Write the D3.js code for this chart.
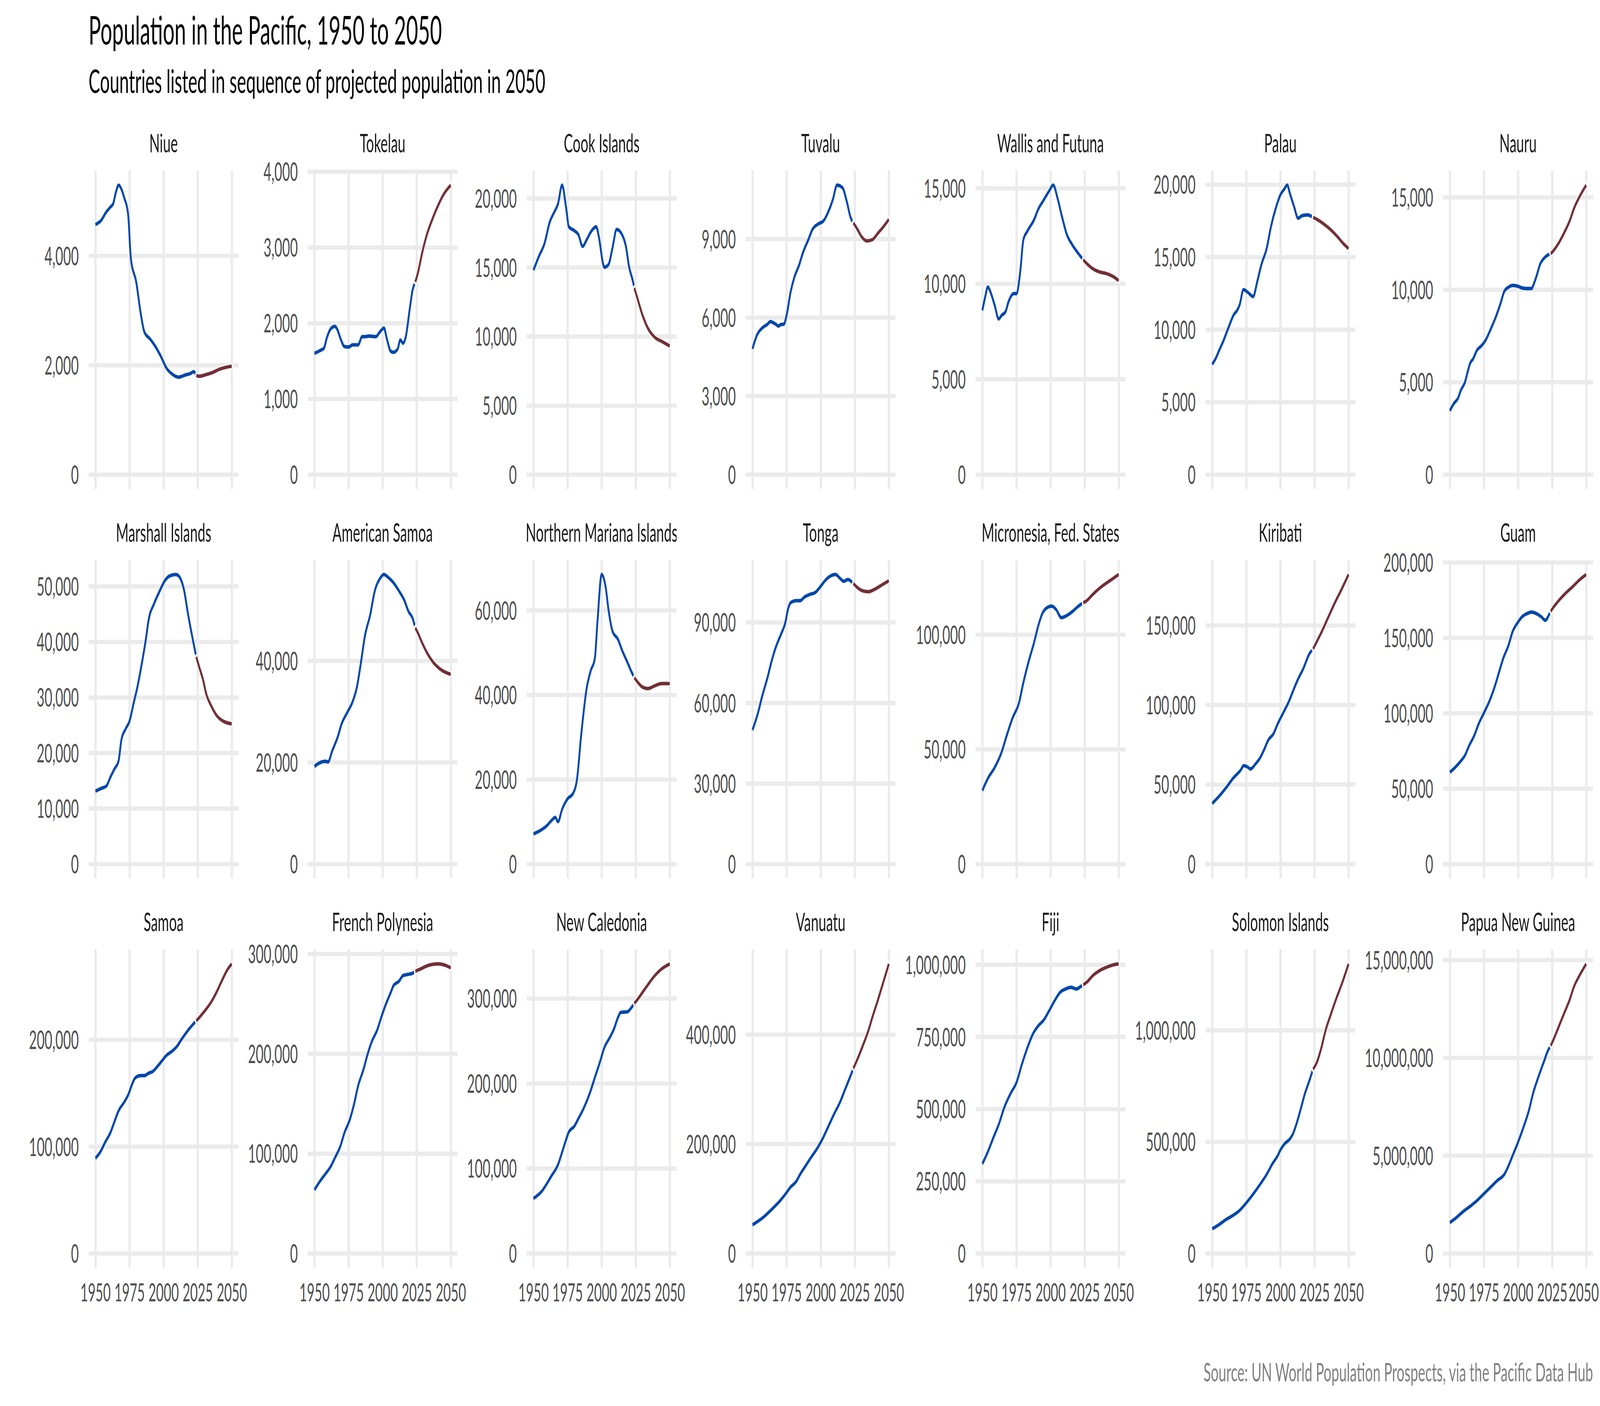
<!DOCTYPE html>
<html>
<head>
<meta charset="utf-8">
<script src="https://cdn.jsdelivr.net/npm/d3@7"></script>
<style>
  html, body { margin: 0; padding: 0; background: #fff; overflow: hidden; }
  svg { display: block; }
</style>
</head>
<body>
<div id="chart"></div>
<script>
// panels in the order of projected population in 2050
var countries = ["Niue", "Tokelau", "Cook Islands", "Tuvalu", "Wallis and Futuna", "Palau", "Nauru",
    "Marshall Islands", "American Samoa", "Northern Mariana Islands", "Tonga", "Micronesia, Fed. States", "Kiribati", "Guam",
    "Samoa", "French Polynesia", "New Caledonia", "Vanuatu", "Fiji", "Solomon Islands", "Papua New Guinea"];

// [year, population]; estimates up to 2024, projections after
var niue = [[1950,4570],[1954,4640],[1958,4800],[1961,4890],[1963,4950],[1965,5160],[1967,5290],[1969,5220],[1971,5070],[1974,4750],[1976,3950],[1980,3510],[1983,2980],[1986,2600],[1990,2480],[1994,2340],[1998,2160],[2002,1950],[2006,1840],[2011,1780],[2016,1820],[2020,1850],[2022,1880],[2024,1810],[2026,1795],[2031,1825],[2036,1865],[2041,1925],[2045,1955],[2050,1980]];
var tokelau = [[1950,1600],[1954,1636],[1957,1670],[1959,1800],[1962,1925],[1965,1955],[1967,1905],[1969,1800],[1972,1690],[1975,1683],[1978,1712],[1982,1712],[1985,1820],[1987,1820],[1990,1828],[1995,1820],[1998,1883],[2001,1934],[2003,1800],[2006,1627],[2008,1614],[2011,1657],[2013,1776],[2015,1734],[2017,1819],[2020,2200],[2022,2437],[2024,2543],[2026,2671],[2029,2926],[2032,3139],[2037,3395],[2041,3565],[2045,3706],[2050,3821]];
var cook = [[1950,14800],[1954,15800],[1958,16700],[1962,18300],[1965,18950],[1968,19600],[1971,20950],[1974,19250],[1976,17930],[1980,17650],[1983,17360],[1986,16520],[1989,16990],[1992,17550],[1996,17930],[1998,17180],[2001,15290],[2002,15010],[2005,15200],[2008,16420],[2011,17740],[2015,17360],[2018,16420],[2020,15100],[2023,13970],[2024,13500],[2026,12840],[2030,11530],[2034,10580],[2039,9930],[2044,9640],[2050,9300]];
var tuvalu = [[1950,4800],[1953,5290],[1957,5590],[1961,5740],[1963,5840],[1967,5740],[1969,5670],[1971,5730],[1973,5740],[1975,6080],[1978,6980],[1981,7580],[1984,7970],[1987,8470],[1991,8970],[1994,9360],[1998,9560],[2002,9680],[2005,9960],[2009,10510],[2012,11050],[2016,10950],[2019,10460],[2022,9810],[2024,9610],[2027,9360],[2030,9085],[2034,8920],[2038,8970],[2042,9215],[2046,9460],[2050,9740]];
var wallis = [[1950,8600],[1952,9280],[1954,9820],[1956,9550],[1959,8870],[1962,8150],[1964,8330],[1967,8530],[1969,9010],[1973,9480],[1975,9480],[1978,10780],[1980,12270],[1983,12750],[1988,13360],[1991,13900],[1995,14380],[1999,14860],[2002,15160],[2005,14520],[2008,13630],[2012,12570],[2016,12030],[2020,11620],[2024,11250],[2027,11020],[2031,10780],[2036,10610],[2041,10530],[2046,10370],[2050,10160]];
var palau = [[1950,7600],[1953,8090],[1955,8540],[1958,9170],[1962,10150],[1966,11050],[1968,11280],[1970,11670],[1973,12750],[1976,12570],[1980,12270],[1983,13290],[1986,14450],[1990,15610],[1993,17050],[1997,18480],[2000,19280],[2003,19700],[2005,19950],[2007,19370],[2010,18480],[2013,17670],[2016,17850],[2020,17900],[2024,17730],[2027,17580],[2032,17260],[2037,16870],[2042,16380],[2046,15940],[2050,15580]];
var nauru = [[1950,3450],[1953,3850],[1956,4130],[1958,4550],[1961,4980],[1963,5540],[1965,6040],[1967,6250],[1970,6740],[1973,6950],[1976,7240],[1980,7870],[1984,8580],[1987,9220],[1990,9920],[1993,10130],[1996,10230],[2000,10180],[2003,10090],[2006,10060],[2010,10060],[2011,10200],[2014,10840],[2016,11340],[2019,11690],[2021,11830],[2024,11940],[2026,12110],[2030,12540],[2034,13100],[2038,13740],[2041,14380],[2045,15010],[2050,15650]];
var marshall = [[1950,13100],[1954,13570],[1958,14010],[1961,15630],[1964,17110],[1967,18580],[1969,22270],[1972,24240],[1975,25710],[1978,28910],[1981,32100],[1984,36040],[1987,40460],[1989,43900],[1993,46850],[1997,49070],[2001,51030],[2005,51920],[2009,52110],[2011,51870],[2015,49310],[2018,44890],[2021,40950],[2023,38500],[2024,37270],[2026,35550],[2029,33090],[2031,30880],[2035,28420],[2039,26700],[2043,25810],[2050,25220]];
var amSamoa = [[1950,19200],[1954,19920],[1958,20190],[1960,20080],[1963,22230],[1967,24930],[1970,27620],[1974,29770],[1978,31930],[1981,34620],[1984,39460],[1987,44850],[1991,49150],[1994,53460],[1998,56150],[2001,56960],[2004,56420],[2008,55340],[2012,53730],[2016,51840],[2019,49690],[2022,48340],[2024,46460],[2026,45380],[2029,43500],[2033,41350],[2037,39730],[2042,38390],[2050,37310]];
var nMariana = [[1950,7100],[1955,7900],[1960,9100],[1963,10190],[1966,11000],[1968,10000],[1971,12900],[1975,15400],[1979,16650],[1982,20200],[1985,30500],[1989,41500],[1992,45700],[1995,48600],[1997,57600],[2000,68450],[2003,65350],[2005,60200],[2008,55030],[2012,53100],[2015,50520],[2019,47610],[2022,45360],[2024,44060],[2027,42770],[2030,41810],[2034,41480],[2039,42130],[2044,42650],[2050,42650]];
var tonga = [[1950,49900],[1954,56180],[1957,62270],[1961,69380],[1964,75480],[1967,80560],[1971,85640],[1974,89700],[1976,94780],[1978,97320],[1982,98030],[1985,98030],[1988,99350],[1992,100370],[1996,101080],[2000,103410],[2004,105950],[2007,107170],[2011,107780],[2014,106460],[2017,105240],[2020,105950],[2023,104940],[2024,104430],[2027,102910],[2031,101690],[2035,101380],[2040,102400],[2045,103920],[2050,105450]];
var micronesia = [[1950,32000],[1954,37220],[1959,41970],[1964,48510],[1968,56240],[1972,63380],[1977,70510],[1980,78840],[1984,88350],[1988,96670],[1991,103800],[1994,109160],[1997,111530],[2001,112370],[2004,110940],[2008,107370],[2012,108320],[2016,109990],[2020,112130],[2024,113900],[2026,114500],[2031,117480],[2037,120690],[2044,123660],[2050,126160]];
var kiribati = [[1950,38000],[1955,42510],[1960,47660],[1966,54510],[1968,56230],[1971,59140],[1973,61710],[1976,60860],[1978,59660],[1982,63090],[1985,66510],[1988,71660],[1991,77660],[1995,81940],[1998,87940],[2002,94800],[2006,101660],[2010,110230],[2013,116230],[2017,123090],[2021,131660],[2024,135090],[2026,138510],[2030,145370],[2035,154800],[2040,164230],[2045,172800],[2050,181890]];
var guam = [[1950,60800],[1954,64080],[1958,68230],[1961,71840],[1964,78160],[1968,85380],[1971,92600],[1975,100180],[1979,107940],[1983,117870],[1986,126900],[1989,135920],[1993,144950],[1996,153970],[2000,160290],[2003,163900],[2006,165700],[2010,166970],[2014,165700],[2017,163900],[2020,161550],[2023,165700],[2024,167510],[2026,170220],[2030,174730],[2035,179600],[2040,183760],[2045,188270],[2050,191880]];
var samoa = [[1950,89000],[1954,95760],[1957,103610],[1961,113030],[1964,123390],[1967,133440],[1971,141290],[1974,148200],[1977,158560],[1979,163890],[1983,166400],[1986,166400],[1989,168600],[1992,170170],[1996,175820],[1999,180530],[2002,185240],[2006,189010],[2010,194040],[2013,200000],[2017,207220],[2021,213500],[2024,217580],[2027,221980],[2031,228260],[2035,235480],[2039,244900],[2043,255890],[2047,265930],[2050,270960]];
var frPolynesia = [[1950,63500],[1954,72080],[1958,79450],[1962,87160],[1965,95540],[1969,107280],[1972,120680],[1976,134090],[1979,149180],[1982,167620],[1986,184380],[1989,199460],[1992,211870],[1996,223600],[1999,236340],[2002,248070],[2006,261480],[2008,268190],[2012,272540],[2015,278240],[2018,279250],[2022,280590],[2024,282600],[2028,284950],[2032,287630],[2037,289500],[2041,289900],[2046,288500],[2050,285950]];
var newCaledonia = [[1950,64500],[1956,72840],[1963,90550],[1968,104330],[1972,124020],[1976,142910],[1980,149610],[1983,158660],[1987,171260],[1991,187010],[1995,206690],[1999,226380],[2002,242130],[2006,253940],[2009,263780],[2012,277560],[2014,283470],[2019,284250],[2021,287400],[2024,294090],[2026,298030],[2030,307090],[2034,316140],[2039,326770],[2044,334650],[2050,340550]];
var vanuatu = [[1950,52000],[1954,58460],[1958,65850],[1962,75080],[1966,84920],[1970,95390],[1974,107690],[1978,121230],[1982,131080],[1985,144620],[1989,160000],[1993,175390],[1998,193850],[2002,212310],[2006,233850],[2010,255390],[2014,275080],[2018,300000],[2022,325000],[2024,338000],[2027,355000],[2031,380000],[2035,407000],[2038,432000],[2042,463000],[2046,496000],[2050,529000]];
var fiji = [[1950,310000],[1954,351100],[1958,399770],[1962,446120],[1966,504060],[1971,556200],[1975,590960],[1979,654690],[1984,724220],[1987,758980],[1991,787950],[1995,807650],[1999,840090],[2003,874860],[2007,903820],[2011,915410],[2015,921200],[2019,915410],[2022,923520],[2024,930000],[2027,940900],[2031,961760],[2036,979140],[2041,990730],[2046,998840],[2050,1002320]];
var solomon = [[1950,110000],[1955,128200],[1960,150830],[1965,168930],[1970,191550],[1974,218700],[1978,248870],[1982,282050],[1986,316740],[1990,354450],[1994,399700],[1998,437410],[2000,463050],[2003,490200],[2007,512820],[2009,532430],[2012,583710],[2015,648570],[2018,716440],[2021,769230],[2023,806940],[2024,825040],[2027,859730],[2030,920060],[2033,995480],[2037,1070890],[2041,1141780],[2045,1206640],[2050,1297130]];
var png = [[1950,1570000],[1955,1841000],[1960,2150000],[1965,2408000],[1970,2701000],[1975,3045000],[1980,3389000],[1985,3733000],[1990,4043000],[1993,4473000],[1996,4989000],[2000,5677000],[2004,6451000],[2008,7311000],[2011,8171000],[2015,9031000],[2019,9806000],[2022,10373000],[2024,10614000],[2026,10924000],[2030,11612000],[2034,12300000],[2038,12988000],[2041,13625000],[2045,14192000],[2050,14794000]];

var series = [niue, tokelau, cook, tuvalu, wallis, palau, nauru,
    marshall, amSamoa, nMariana, tonga, micronesia, kiribati, guam,
    samoa, frPolynesia, newCaledonia, vanuatu, fiji, solomon, png];

var yTicks = [
    [0, 2000, 4000], [0, 1000, 2000, 3000, 4000], [0, 5000, 10000, 15000, 20000], [0, 3000, 6000, 9000],
    [0, 5000, 10000, 15000], [0, 5000, 10000, 15000, 20000], [0, 5000, 10000, 15000],
    [0, 10000, 20000, 30000, 40000, 50000], [0, 20000, 40000], [0, 20000, 40000, 60000], [0, 30000, 60000, 90000],
    [0, 50000, 100000], [0, 50000, 100000, 150000], [0, 50000, 100000, 150000, 200000],
    [0, 100000, 200000], [0, 100000, 200000, 300000], [0, 100000, 200000, 300000], [0, 200000, 400000],
    [0, 250000, 500000, 750000, 1000000], [0, 500000, 1000000], [0, 5000000, 10000000, 15000000]];
var xTicks = [1950, 1975, 2000, 2025, 2050];
var lastEstimate = 2024;

var width = 7800, height = 3600;
var nCols = 7, nRows = 3;
var panelW = 731, panelH = 815;
var firstLeft = 432, firstTop = 437, rowStep = 997;
var labelGap = 48, colGap = 46;
var histColour = "#0047AB", projColour = "#722F37";
var fontFamily = "Lato, 'Open Sans', sans-serif";

// drawn in a 7800 x 3600 user space that fills the window
var svg = d3.select("#chart")
  .append("svg")
    .attr("viewBox", "0 0 " + width + " " + height)
    .attr("preserveAspectRatio", "none")
    .style("width", "100vw")
    .style("height", "100vh")
    .style("font-family", fontFamily);

svg.append("rect").attr("width", width).attr("height", height).attr("fill", "#fff");

function textWidth(str, size) {
    var t = svg.append("text").attr("font-size", size).text(str);
    var w = t.node().getComputedTextLength();
    t.remove();
    return w;
}

// the original used Calibri; scale the stand-in font to Calibri's widths
var digitScale = 404.9 / textWidth("1,000,000", 100);
var yearScale = 507 / textWidth("0123456789", 100);
var textScale = 1566 / textWidth("Population in the Pacific, 1950 to 2050", 100);
var axisSize = 73 * digitScale;
var yearSize = 73 * yearScale;
var stripSize = 73 * textScale;

var fmt = d3.format(",");

// every column's axis is as wide as its widest label
var axisW = [];
for (var c = 0; c < nCols; c++) {
    var m = 0;
    for (var r = 0; r < nRows; r++) {
        yTicks[r * nCols + c].forEach(function(v) {
            m = Math.max(m, textWidth(fmt(v), axisSize));
        });
    }
    axisW.push(m);
}
var colLeft = [firstLeft];
for (var c = 1; c < nCols; c++) {
    colLeft.push(colLeft[c - 1] + panelW + colGap + axisW[c] + labelGap);
}

var line = function(x, y) {
    return d3.line()
        .x(function(d) { return x(d[0]); })
        .y(function(d) { return y(d[1]); })
        .curve(d3.curveMonotoneX);
};

countries.forEach(function(name, i) {
    var row = Math.floor(i / nCols), col = i % nCols;
    var left = colLeft[col], top = firstTop + row * rowStep;
    var data = series[i];
    var maxVal = d3.max(data, function(d) { return d[1]; });

    var x = d3.scaleLinear().domain([1945, 2055]).range([0, panelW]);
    var y = d3.scaleLinear().domain([-0.05 * maxVal, 1.05 * maxVal]).range([panelH, 0]);

    var g = svg.append("g").attr("transform", "translate(" + left + "," + top + ")");

    var yAxis = g.append("g")
        .call(d3.axisLeft(y).tickValues(yTicks[i]).tickSize(-panelW).tickPadding(labelGap).tickFormat(fmt));
    var xAxis = g.append("g")
        .attr("transform", "translate(0," + panelH + ")")
        .call(d3.axisBottom(x).tickValues(xTicks).tickSize(-panelH)
            .tickFormat(row == nRows - 1 ? d3.format("d") : ""));

    [yAxis, xAxis].forEach(function(a) {
        a.select(".domain").remove();
        a.selectAll(".tick line").attr("stroke", "#EBEBEB").attr("stroke-width", 11);
        a.selectAll(".tick text")
            .attr("fill", "#4D4D4D")
            .attr("font-family", fontFamily);
    });
    yAxis.selectAll(".tick text").attr("font-size", axisSize).attr("dy", "0.36em");
    xAxis.selectAll(".tick text").attr("font-size", yearSize).attr("y", 86).attr("dy", 0);

    // keep the last year label inside the picture
    xAxis.selectAll(".tick text").each(function(d) {
        var half = this.getComputedTextLength() / 2;
        var over = left + x(d) + half - (width - 6);
        if (over > 0) d3.select(this).attr("x", -over);
    });

    var hist = data.filter(function(d) { return d[0] <= lastEstimate; });
    var proj = data.filter(function(d) { return d[0] >= lastEstimate; });

    g.append("path")
        .attr("d", line(x, y)(hist))
        .attr("fill", "none")
        .attr("stroke", histColour)
        .attr("stroke-width", 9)
        .attr("stroke-linejoin", "round");
    // white under the projection opens a small gap where it starts
    g.append("path")
        .attr("d", line(x, y)(proj))
        .attr("fill", "none")
        .attr("stroke", "#fff")
        .attr("stroke-width", 13)
        .attr("stroke-linecap", "square")
        .attr("stroke-linejoin", "round");
    g.append("path")
        .attr("d", line(x, y)(proj))
        .attr("fill", "none")
        .attr("stroke", projColour)
        .attr("stroke-width", 9)
        .attr("stroke-linejoin", "round");

    // strip label, clipped to the panel width
    svg.append("clipPath").attr("id", "strip" + i)
      .append("rect")
        .attr("x", left).attr("y", top - 150)
        .attr("width", panelW).attr("height", 150);
    svg.append("text")
        .attr("clip-path", "url(#strip" + i + ")")
        .attr("x", left + panelW / 2)
        .attr("y", top - 47)
        .attr("text-anchor", "middle")
        .attr("font-size", stripSize)
        .attr("fill", "#1A1A1A")
        .text(name);
});

svg.append("text")
    .attr("x", firstLeft)
    .attr("y", 114)
    .attr("font-size", 110 * textScale)
    .attr("fill", "#000")
    .text("Population in the Pacific, 1950 to 2050");

svg.append("text")
    .attr("x", firstLeft)
    .attr("y", 238)
    .attr("font-size", 92 * textScale)
    .attr("fill", "#000")
    .text("Countries listed in sequence of projected population in 2050");

svg.append("text")
    .attr("x", colLeft[nCols - 1] + panelW)
    .attr("y", 3537)
    .attr("text-anchor", "end")
    .attr("font-size", 73 * textScale)
    .attr("fill", "#808080")
    .text("Source: UN World Population Prospects, via the Pacific Data Hub");
</script>
</body>
</html>
